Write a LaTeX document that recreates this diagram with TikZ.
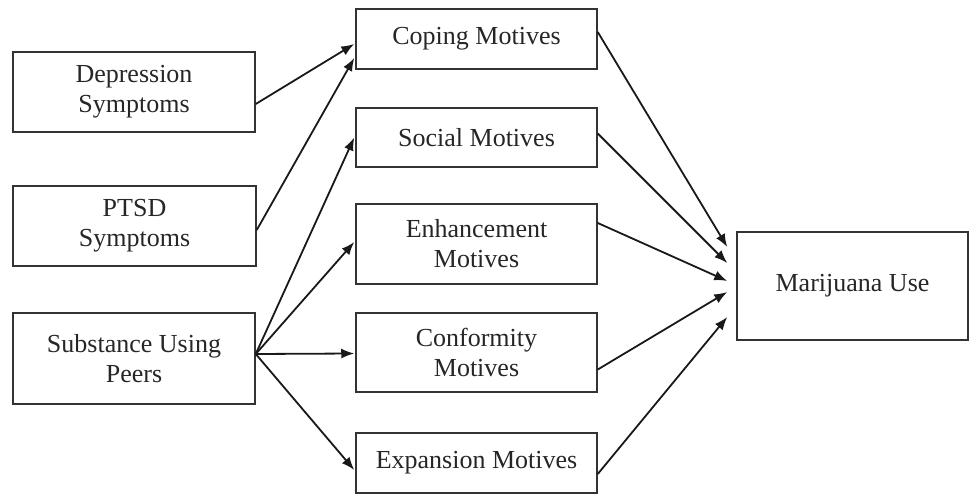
\documentclass[tikz,border=0pt]{standalone}
\usepackage{fontspec}
\setmainfont{Liberation Serif}
\usetikzlibrary{arrows.meta}
\begin{document}
\begin{tikzpicture}[x=1pt,y=-1pt,
  box/.style={draw=black!80,line width=1.5pt,rectangle,inner sep=0pt,align=center,
    font=\fontsize{26}{30}\selectfont,text=black!85},
  arr/.style={line width=1.8pt,draw=black!90,-{Latex[length=13pt,width=10pt]}}]
\useasboundingbox (0,0) rectangle (969,494);
% left column
\node[box,minimum width=242pt,minimum height=80pt] (dep) at (134,92) {Depression\\Symptoms};
\node[box,minimum width=243pt,minimum height=80pt] (ptsd) at (134.5,226) {PTSD\\Symptoms};
\node[box,minimum width=242pt,minimum height=91pt] (sub) at (134,358.5) {Substance Using\\Peers};
% middle column
\node[box,minimum width=241pt,minimum height=60pt] (cop) at (476.5,39) {Coping Motives};
\node[box,minimum width=241pt,minimum height=59pt] (soc) at (476.5,137.5) {Social Motives};
\node[box,minimum width=241pt,minimum height=80pt] (enh) at (476.5,244) {Enhancement\\Motives};
\node[box,minimum width=241pt,minimum height=79pt] (con) at (476.5,352.5) {Conformity\\Motives};
\node[box,minimum width=241pt,minimum height=60pt] (exp) at (476.5,463) {Expansion Motives};
% right
\node[box,minimum width=231pt,minimum height=108pt] (mj) at (852.5,286) {Marijuana Use};
% end points near Marijuana Use
\coordinate (m1) at ([xshift=-9pt,yshift=39pt]mj.west);
\coordinate (m2) at ([xshift=-9pt,yshift=23pt]mj.west);
\coordinate (m3) at ([xshift=-9pt,yshift=5pt]mj.west);
\coordinate (m4) at ([xshift=-9pt,yshift=-6pt]mj.west);
\coordinate (m5) at ([xshift=-9pt,yshift=-31pt]mj.west);
% left to middle
\draw[arr] ([yshift=-12pt]dep.east) -- ([xshift=-1pt,yshift=-5pt]cop.west);
\draw[arr] ([yshift=-4pt]ptsd.east) -- ([xshift=-1pt,yshift=-19pt]cop.west);
\draw[arr] ([yshift=4.5pt]sub.east) -- ([xshift=-1pt]soc.west);
\draw[arr] ([yshift=4.5pt]sub.east) -- ([xshift=-1pt,yshift=2pt]enh.west);
\draw[arr] ([yshift=4.5pt]sub.east) -- ([xshift=-1pt,yshift=-1pt]con.west);
\draw[arr] ([yshift=4.5pt]sub.east) -- ([xshift=-1pt,yshift=-7pt]exp.west);
% middle to right
\draw[arr] ([yshift=7pt]cop.east) -- (m1);
\draw[arr] ([yshift=4pt]soc.east) -- (m2);
\draw[arr] ([yshift=21pt]enh.east) -- (m3);
\draw[arr] ([yshift=-17pt]con.east) -- (m4);
\draw[arr] ([yshift=-11pt]exp.east) -- (m5);
\end{tikzpicture}
\end{document}
